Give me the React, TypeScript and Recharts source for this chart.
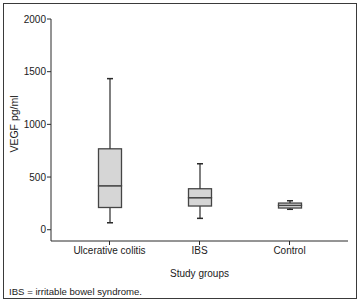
import React from 'react'
import { ComposedChart, Bar, XAxis, YAxis, Label } from 'recharts'

const groups: string[] = ['Ulcerative colitis', 'IBS', 'Control']
const minVals: number[] = [66, 108, 194]
const q1Vals: number[] = [211, 225, 206]
const medianVals: number[] = [417, 304, 231]
const q3Vals: number[] = [768, 389, 253]
const maxVals: number[] = [1434, 626, 275]
const yTicks: number[] = [0, 500, 1000, 1500, 2000]

const data = groups.map((group, i) => ({
  group,
  base: minVals[i],
  lowWhisker: q1Vals[i] - minVals[i],
  lowBox: medianVals[i] - q1Vals[i],
  highBox: q3Vals[i] - medianVals[i],
  highWhisker: maxVals[i] - q3Vals[i],
}))

const font = '"Liberation Sans", Arial, sans-serif'
const ink = '#2b2b2b'
const boxFill = '#d6d6d6'
const boxStroke = '#454545'

const LowWhisker = (props: any) => {
  const { x, y, width, height } = props
  const cx = x + width / 2
  return (
    <g>
      <line x1={cx} y1={y} x2={cx} y2={y + height} stroke={ink} strokeWidth={1.2} />
      <line x1={cx - 3} y1={y + height} x2={cx + 3} y2={y + height} stroke={ink} strokeWidth={1.5} />
    </g>
  )
}

const HighWhisker = (props: any) => {
  const { x, y, width, height } = props
  const cx = x + width / 2
  return (
    <g>
      <line x1={cx} y1={y} x2={cx} y2={y + height} stroke={ink} strokeWidth={1.2} />
      <line x1={cx - 3} y1={y} x2={cx + 3} y2={y} stroke={ink} strokeWidth={1.5} />
    </g>
  )
}

const BoxPart = (props: any) => {
  const { x, y, width, height } = props
  return <rect x={x} y={y} width={width} height={height} fill={boxFill} stroke={boxStroke} strokeWidth={1.3} />
}

const App: React.FC = () => {
  return (
    <div style={{ position: 'absolute', left: 0, top: 0, width: 362, height: 304, background: '#fff', fontFamily: font }}>
      <div
        style={{
          position: 'absolute', left: 3, top: 3, width: 352, height: 294,
          border: '1.5px solid #3a3a3a',
        }}
      />
      <div style={{ position: 'absolute', left: 0, top: 0 }}>
        <ComposedChart
          width={362}
          height={304}
          data={data}
          margin={{ top: 19, right: 14, bottom: 27, left: 0 }}
          barSize={23}
        >
          <XAxis
            dataKey="group"
            height={36}
            padding={{ left: 13.5, right: 13.5 }}
            stroke={ink}
            tickSize={4}
            tickMargin={2}
            tick={{ fontSize: 10, fill: '#1a1a1a', fontFamily: font }}
          >
            <Label value="Study groups" position="insideBottom" offset={0} style={{ fontSize: 10, fill: '#1a1a1a', fontFamily: font }} />
          </XAxis>
          <YAxis
            domain={[-107, 2000]}
            ticks={yTicks}
            width={51}
            stroke={ink}
            tickSize={4}
            tickMargin={1}
            tick={{ fontSize: 10, fill: '#1a1a1a', fontFamily: font }}
          >
            <Label value="VEGF pg/ml" angle={-90} position="center" dx={-11} dy={-6} style={{ fontSize: 10.5, fill: '#1a1a1a', fontFamily: font }} />
          </YAxis>
          <Bar dataKey="base" stackId="box" fill="transparent" isAnimationActive={false} />
          <Bar dataKey="lowWhisker" stackId="box" shape={<LowWhisker />} isAnimationActive={false} />
          <Bar dataKey="lowBox" stackId="box" shape={<BoxPart />} isAnimationActive={false} />
          <Bar dataKey="highBox" stackId="box" shape={<BoxPart />} isAnimationActive={false} />
          <Bar dataKey="highWhisker" stackId="box" shape={<HighWhisker />} isAnimationActive={false} />
        </ComposedChart>
      </div>
      <div style={{ position: 'absolute', left: 9, top: 285, fontSize: 9.6, color: '#1a1a1a', lineHeight: '14px' }}>
        IBS = irritable bowel syndrome.
      </div>
    </div>
  )
}

export default App
